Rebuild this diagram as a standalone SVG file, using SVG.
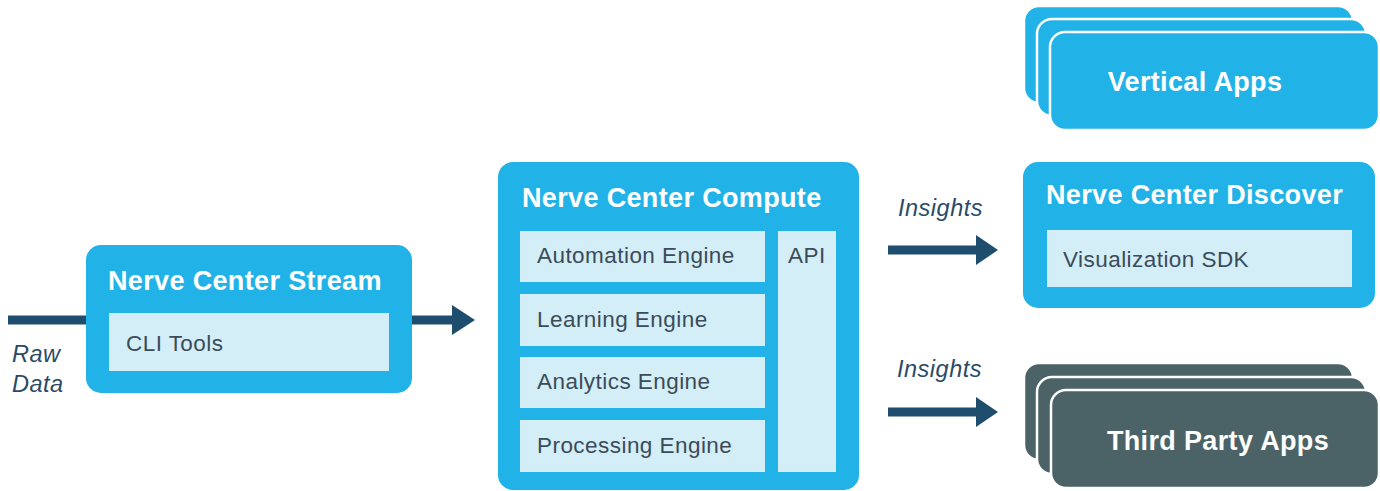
<svg xmlns="http://www.w3.org/2000/svg" width="1380" height="491" viewBox="0 0 1380 491">
<defs>
<style>
.box{fill:#21b3e7;}
.inner{fill:#d3eef7;}
.dark{fill:#4b6267;stroke:#ffffff;stroke-width:2.5;}
.stack{fill:#21b3e7;stroke:#ffffff;stroke-width:2.5;}
.title{font-family:"Liberation Sans",Arial,sans-serif;font-weight:bold;font-size:27px;letter-spacing:0.35px;fill:#ffffff;}
.label{font-family:"Liberation Sans",Arial,sans-serif;font-size:22.5px;letter-spacing:0.45px;fill:#3b4b5a;}
.note{font-family:"Liberation Sans",Arial,sans-serif;font-style:italic;font-size:23.5px;letter-spacing:0.5px;fill:#2a4a66;}
.line{stroke:#1f4d6d;stroke-width:9;fill:none;}
.head{fill:#1f4d6d;}
</style>
</defs>
<rect width="1380" height="491" fill="#ffffff"/>

<g id="connectors">
  <line class="line" x1="8" y1="320" x2="86" y2="320"/>
  <line class="line" x1="412" y1="320" x2="454" y2="320"/>
  <polygon class="head" points="452,305 475,320 452,335"/>
  <line class="line" x1="888" y1="250" x2="978" y2="250"/>
  <polygon class="head" points="976,235 998,250 976,265"/>
  <line class="line" x1="888" y1="412" x2="978" y2="412"/>
  <polygon class="head" points="976,397 998,412 976,427"/>
  <text class="note" x="12" y="362">Raw</text>
  <text class="note" x="12" y="392">Data</text>
  <text class="note" x="898" y="216">Insights</text>
  <text class="note" x="897" y="377">Insights</text>
</g>

<g id="stream">
  <rect class="box" x="86" y="245" width="326" height="148" rx="15"/>
  <text class="title" x="108" y="290">Nerve Center Stream</text>
  <rect class="inner" x="109" y="313" width="280" height="58"/>
  <text class="label" x="126" y="351">CLI Tools</text>
</g>

<g id="compute">
  <rect class="box" x="498" y="162" width="361" height="328" rx="15"/>
  <text class="title" x="522" y="207">Nerve Center Compute</text>
  <rect class="inner" x="520" y="231" width="245" height="51"/>
  <text class="label" x="537" y="263">Automation Engine</text>
  <rect class="inner" x="520" y="294" width="245" height="52"/>
  <text class="label" x="537" y="327">Learning Engine</text>
  <rect class="inner" x="520" y="357" width="245" height="51"/>
  <text class="label" x="537" y="389">Analytics Engine</text>
  <rect class="inner" x="520" y="420" width="245" height="52"/>
  <text class="label" x="537" y="453">Processing Engine</text>
  <rect class="inner" x="778" y="231" width="58" height="241"/>
  <text class="label" x="788" y="263">API</text>
</g>

<g id="vertical-apps">
  <rect class="stack" x="1024" y="6" width="329" height="97" rx="15"/>
  <rect class="stack" x="1037" y="19" width="329" height="97" rx="15"/>
  <rect class="stack" x="1050" y="32" width="329" height="98" rx="15"/>
  <text class="title" x="1195" y="91" text-anchor="middle">Vertical Apps</text>
</g>

<g id="discover">
  <rect class="box" x="1023" y="162" width="352" height="146" rx="15"/>
  <text class="title" x="1046" y="204">Nerve Center Discover</text>
  <rect class="inner" x="1047" y="230" width="305" height="57"/>
  <text class="label" x="1063" y="267">Visualization SDK</text>
</g>

<g id="third-party-apps">
  <rect class="dark" x="1024" y="363" width="329" height="97" rx="15"/>
  <rect class="dark" x="1037" y="377" width="329" height="97" rx="15"/>
  <rect class="dark" x="1051" y="390" width="328" height="98" rx="15"/>
  <text class="title" x="1218" y="450" text-anchor="middle">Third Party Apps</text>
</g>
</svg>
